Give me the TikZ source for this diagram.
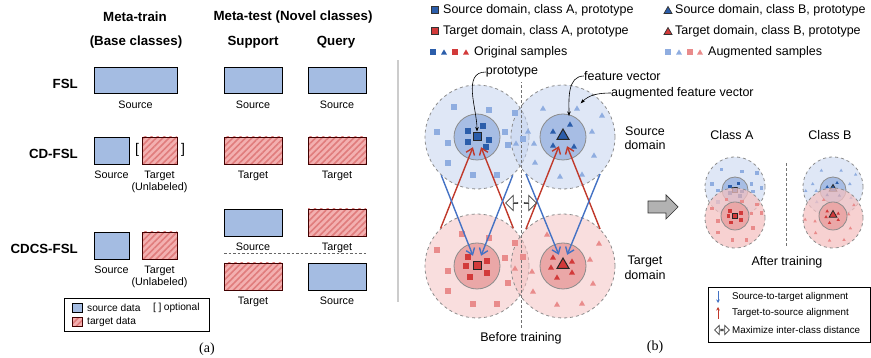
\documentclass[tikz,border=0pt]{standalone}
\usepackage{fontspec}
\setmainfont{Liberation Sans}
\newfontfamily\capfont{Liberation Serif}
\usetikzlibrary{positioning,arrows.meta,patterns.meta,shapes.geometric,shapes.arrows}

\definecolor{boxblue}{HTML}{A4BCE2}
\definecolor{hatchbase}{HTML}{F3B0B0}
\definecolor{hatchline}{HTML}{E07C7C}
\definecolor{origblue}{HTML}{2B5DAA}
\definecolor{augblue}{HTML}{8FADE0}
\definecolor{origred}{HTML}{D23A3A}
\definecolor{augred}{HTML}{E98B8B}
\definecolor{srcouter}{HTML}{C4D3EF}
\definecolor{srcinner}{HTML}{A7BDE4}
\definecolor{tgtouter}{HTML}{F4C2C2}
\definecolor{tgtinner}{HTML}{EAA7A7}
\definecolor{arrblue}{HTML}{4472C4}
\definecolor{arrred}{HTML}{C0392B}

\tikzset{
  srcbox/.style={draw=black, fill=boxblue, line width=0.8pt, inner sep=0pt, minimum height=26pt},
  tgtbox/.style={draw=black!75!red, line width=0.8pt, inner sep=0pt, minimum height=26pt,
    preaction={fill=hatchbase}, pattern={Lines[angle=45,distance=4.5pt,line width=1.6pt]}, pattern color=hatchline},
  head/.style={font=\fontsize{13.3}{15}\selectfont\bfseries, inner sep=0pt},
  lbl/.style={font=\fontsize{10.8}{12.5}\selectfont, align=center, inner sep=0pt},
  legtxt/.style={font=\fontsize{10.2}{12}\selectfont, inner sep=0pt, anchor=west},
  txt/.style={font=\fontsize{12.5}{14.5}\selectfont, align=center, inner sep=0pt},
  legb/.style={font=\fontsize{9.8}{11}\selectfont, inner sep=0pt, anchor=west},
  outerc/.style={circle, draw=black!45, dashed, line width=0.8pt, minimum size=104pt, inner sep=0pt, fill opacity=0.55},
  innerc/.style={circle, draw=black!45, line width=0.8pt, minimum size=46pt, inner sep=0pt},
  protosq/.style={rectangle, draw=black!85, line width=1pt, minimum size=8pt, inner sep=0pt},
  protri/.style={regular polygon, regular polygon sides=3, draw=black!85, line width=1pt, minimum size=14pt, inner sep=0pt},
  s2t/.style={arrblue, line width=1.4pt, -{Straight Barb[length=6pt,width=9pt]}, shorten >=11pt},
  t2s/.style={arrred, line width=1.4pt, -{Straight Barb[length=6pt,width=9pt]}, shorten >=11pt},
  note/.style={-{Stealth[length=4.5pt,width=3.5pt]}, line width=0.6pt, shorten >=1pt},
  hollow/.style={single arrow, draw=black!75, fill=white, line width=0.7pt, minimum height=12pt,
    minimum width=15pt, single arrow head extend=4pt, inner sep=0pt}
}

% sample offsets round each class centre
\def\augSA{-23/30,12/27,-40/5,-29/-6,28/5,31/-8,-29/-26,-4/-38,20/-38,46/-2,38/24}
\def\origSA{-9/6,6/11,12/-3,9/-10,-9/-5}
\def\augTA{-15/32,12/28,-40/16,-29/-5,28/8,38/23,31/-17,-29/-25,-4/-38,20/-38,46/9}
\def\origTA{-9/9,10/5,-11/0,10/-7,-7/-11}
\def\augSB{-20/29,14/29,39/22,29/6,-35/6,-29/-6,-47/-6,31/-18,-28/-25,-3/-39,19/-37}
\def\origSB{-10/6,7/13,-10/-8,11/-9}
\def\augTB{-16/32,36/23,27/7,-31/-5,-48/-2,30/-17,-30/-25,-6/-38,19/-37}
\def\origTB{-10/9,9/5,-12/-1,9/-6,-6/-11}

\newcommand{\sqcloud}[2]{\foreach \dx/\dy in #2 {\fill[#1] (\dx-3,\dy-3) rectangle ++(6,6);}}
\newcommand{\tricloud}[2]{\foreach \dx/\dy in #2 {\fill[#1] (\dx-3,\dy-2.6) -- ++(6,0) -- ++(-3,5.2) -- cycle;}}

\begin{document}
\begin{tikzpicture}[x=1pt,y=1pt]
\useasboundingbox (0,0) rectangle (871,358);

% (a) settings
\node[head] (mtrain) at (135,341) {Meta-train};
\node[head] (base) at (136,316) {(Base classes)};
\node[head] (mtest) at (293,341) {Meta-test (Novel classes)};
\node[head] (supp) at (253,316) {Support};
\node[head] (query) at (336,316) {Query};

\node[head, anchor=east] (fsl) at (78,274) {FSL};
\node[srcbox, minimum width=83pt] (fslTr) at (135.5,278) {};
\node[srcbox, minimum width=58pt] (fslSu) at (253,278) {};
\node[srcbox, minimum width=58pt] (fslQu) at (337,278) {};
\node[lbl, below=7pt of fslTr] (fslTrL) {Source};
\node[lbl, below=7pt of fslSu] (fslSuL) {Source};
\node[lbl, below=7pt of fslQu] (fslQuL) {Source};

\node[head, anchor=east] (cdfsl) at (78,204) {CD-FSL};
\node[srcbox, minimum width=35pt, minimum height=27pt] (cdTrS) at (111.5,207.5) {};
\node[tgtbox, minimum width=35pt, minimum height=27pt] (cdTrT) at (159.5,207.5) {};
\node[font=\fontsize{14}{14}\selectfont, inner sep=0pt] (brL) at (137,208) {[};
\node[font=\fontsize{14}{14}\selectfont, inner sep=0pt] (brR) at (183,208) {]};
\node[tgtbox, minimum width=58pt, minimum height=27pt] (cdSu) at (253,207.5) {};
\node[tgtbox, minimum width=58pt, minimum height=27pt] (cdQu) at (337,207.5) {};
\node[lbl, below=6pt of cdTrS] (cdTrSL) {Source};
\node[lbl, below=6pt of cdTrT] (cdTrTL) {Target\\(Unlabeled)};
\node[lbl, below=6pt of cdSu] (cdSuL) {Target};
\node[lbl, below=6pt of cdQu] (cdQuL) {Target};

\node[head, anchor=east] (cdcs) at (78,109) {CDCS-FSL};
\node[srcbox, minimum width=35pt, minimum height=27pt] (csTrS) at (111.5,112.5) {};
\node[tgtbox, minimum width=35pt, minimum height=27pt] (csTrT) at (159.5,112.5) {};
\node[lbl, below=6pt of csTrS] (csTrSL) {Source};
\node[lbl, below=6pt of csTrT] (csTrTL) {Target\\(Unlabeled)};
\node[srcbox, minimum width=58pt, minimum height=27pt] (csSu1) at (253,135.5) {};
\node[tgtbox, minimum width=58pt, minimum height=27pt] (csQu1) at (337,135.5) {};
\node[lbl, below=6pt of csSu1] (csSu1L) {Source};
\node[lbl, below=6pt of csQu1] (csQu1L) {Target};
\draw[black!60, dash pattern=on 2.5pt off 2pt, line width=0.7pt] (224,105) -- (366,105);
\node[tgtbox, minimum width=58pt, minimum height=27pt] (csSu2) at (253,81.5) {};
\node[srcbox, minimum width=58pt, minimum height=27pt] (csQu2) at (337,81.5) {};
\node[lbl, below=6pt of csSu2] (csSu2L) {Target};
\node[lbl, below=6pt of csQu2] (csQu2L) {Source};

% legend (a)
\node[draw, line width=0.8pt, minimum width=145pt, minimum height=33pt, inner sep=0pt] (legA) at (136.5,43.5) {};
\node[srcbox, minimum width=10pt, minimum height=9pt] (legS) at (77,50.5) {};
\node[tgtbox, minimum width=10pt, minimum height=9pt] (legT) at (77,36) {};
\node[legtxt] (legSL) at (87,50.5) {source data};
\node[legtxt] (legTL) at (87,36) {target data};
\node[legtxt] (legOpt) at (153,50.5) {[\hspace{2.5pt}]\hspace{2.5pt}optional};
\node[font=\capfont\fontsize{14}{14}\selectfont, inner sep=0pt] (capA) at (207,9) {(a)};

\draw[line width=1.5pt, black!20] (398,56) -- (398,298);

% (b) legend
\filldraw[fill=origblue, draw=black!80, line width=0.7pt] (431.5,344.5) rectangle ++(7,7);
\node[txt, anchor=west] (lg1) at (443,348) {Source domain, class A, prototype};
\filldraw[fill=origred, draw=black!80, line width=0.7pt] (431.5,323.5) rectangle ++(7,7);
\node[txt, anchor=west] (lg2) at (443,327) {Target domain, class A, prototype};
\filldraw[fill=origblue, draw=black!80, line width=0.7pt] (664,344.5) -- ++(8,0) -- ++(-4,7) -- cycle;
\node[txt, anchor=west] (lg3) at (675,348) {Source domain, class B, prototype};
\filldraw[fill=origred, draw=black!80, line width=0.7pt] (664,323.5) -- ++(8,0) -- ++(-4,7) -- cycle;
\node[txt, anchor=west] (lg4) at (675,327) {Target domain, class B, prototype};
\begin{scope}[shift={(0,306)}]
  \fill[origblue] (430,-3) rectangle ++(6,6);
  \fill[origblue] (441,-2.6) -- ++(6,0) -- ++(-3,5.2) -- cycle;
  \fill[origred] (452,-3) rectangle ++(6,6);
  \fill[origred] (463,-2.6) -- ++(6,0) -- ++(-3,5.2) -- cycle;
  \fill[augblue] (665,-3) rectangle ++(6,6);
  \fill[augblue] (676,-2.6) -- ++(6,0) -- ++(-3,5.2) -- cycle;
  \fill[augred] (687,-3) rectangle ++(6,6);
  \fill[augred] (697,-2.6) -- ++(6,0) -- ++(-3,5.2) -- cycle;
\end{scope}
\node[txt, anchor=west] (lg5) at (474,306) {Original samples};
\node[txt, anchor=west] (lg6) at (708,306) {Augmented samples};

% before training
\node[outerc, fill=srcouter] (srcA) at (477,221) {};
\node[outerc, fill=srcouter] (srcB) at (563,221) {};
\node[outerc, fill=tgtouter] (tgtA) at (477,92) {};
\node[outerc, fill=tgtouter] (tgtB) at (563,92) {};
\draw[black!55, dash pattern=on 3pt off 2pt, line width=0.7pt] (521,30) -- (521,276);
\begin{scope}[shift={(477,221)}] \sqcloud{augblue}{\augSA} \end{scope}
\begin{scope}[shift={(477,92)}] \sqcloud{augred}{\augTA} \end{scope}
\begin{scope}[shift={(563,221)}] \tricloud{augblue}{\augSB} \end{scope}
\begin{scope}[shift={(563,92)}] \tricloud{augred}{\augTB} \end{scope}
\node[innerc, fill=srcinner] (srcAin) at (477,221) {};
\node[innerc, fill=srcinner] (srcBin) at (563,221) {};
\node[innerc, fill=tgtinner] (tgtAin) at (477,92) {};
\node[innerc, fill=tgtinner] (tgtBin) at (563,92) {};
\begin{scope}[shift={(477,221)}] \sqcloud{origblue}{\origSA} \end{scope}
\begin{scope}[shift={(477,92)}] \sqcloud{origred}{\origTA} \end{scope}
\begin{scope}[shift={(563,221)}] \tricloud{origblue}{\origSB} \end{scope}
\begin{scope}[shift={(563,92)}] \tricloud{origred}{\origTB} \end{scope}
\node[protosq, fill=origblue] (protSA) at (477,221) {};
\node[protosq, fill=origred] (protTA) at (477,92) {};
\node[protri, fill=origblue] (protSB) at (563,222) {};
\node[protri, fill=origred] (protTB) at (563,93) {};

\draw[t2s] (tgtA.134) -- (protSA.center);
\draw[t2s] (tgtA.46) -- (protSA.center);
\draw[t2s] (tgtB.135) -- (protSB.center);
\draw[t2s] (tgtB.45) -- (protSB.center);
\draw[s2t] (srcA.227) -- (protTA.center);
\draw[s2t] (srcA.-47) -- (protTA.center);
\draw[s2t] (srcB.225) -- (protTB.center);
\draw[s2t] (srcB.-45) -- (protTB.center);

\node[hollow, shape border rotate=180] (pushL) at (512,155) {};
\node[hollow] (pushR) at (530,155) {};

\node[txt] (protoLbl) at (512,286) {prototype};
\draw[note] (protoLbl.west) to[out=180, in=90] (protSA.north);
\coordinate (fvPt) at (569,241);
\coordinate (afvPt) at (580,254);
\node[txt, anchor=west] (fvLbl) at (584,282) {feature vector};
\node[txt, anchor=west] (afvLbl) at (611,265) {augmented feature vector};
\draw[note] (fvLbl.west) to[out=180, in=90] (fvPt);
\draw[note] (afvLbl.west) to[out=180, in=45] (afvPt);

\node[txt] (srcDom) at (645,220) {Source\\domain};
\node[txt] (tgtDom) at (645,90) {Target\\domain};
\node[txt] (before) at (521,20) {Before training};
\node[font=\capfont\fontsize{14}{14}\selectfont, inner sep=0pt] (capB) at (655,11) {(b)};

% block arrow to the right
\filldraw[fill=black!30, draw=black!80, line width=0.7pt]
  (648,145) -- (666,145) -- (666,139) -- (678,151) -- (666,163) -- (666,157) -- (648,157) -- cycle;

% after training
\node[txt] (clsA) at (732,223) {Class A};
\node[txt] (clsB) at (830,223) {Class B};
\draw[black!55, dash pattern=on 3pt off 2pt, line width=0.7pt] (786,112) -- (786,196);

\node[outerc, fill=srcouter, minimum size=60pt] (aSA) at (735,171) {};
\node[outerc, fill=srcouter, minimum size=60pt] (aSB) at (833,171) {};
\begin{scope}[shift={(735,171)}, scale=0.58] \sqcloud{augblue}{\augSA} \end{scope}
\begin{scope}[shift={(833,171)}, scale=0.58] \tricloud{augblue}{\augSB} \end{scope}
\node[innerc, fill=srcinner, minimum size=26pt] (aSAin) at (735,168) {};
\node[innerc, fill=srcinner, minimum size=26pt] (aSBin) at (833,168) {};
\begin{scope}[shift={(735,168)}, scale=0.58] \sqcloud{origblue}{\origSA} \end{scope}
\begin{scope}[shift={(833,168)}, scale=0.58] \tricloud{origblue}{\origSB} \end{scope}
\node[protosq, fill=origblue, minimum size=5.5pt, line width=0.8pt] (aprotSA) at (735,168) {};
\node[protri, fill=origblue, minimum size=9pt, line width=0.8pt] (aprotSB) at (833,169) {};

\node[outerc, fill=tgtouter, minimum size=60pt, fill opacity=0.75] (aTA) at (735,140) {};
\node[outerc, fill=tgtouter, minimum size=60pt, fill opacity=0.75] (aTB) at (833,140) {};
\begin{scope}[shift={(735,140)}, scale=0.58] \sqcloud{augred}{\augTA} \end{scope}
\begin{scope}[shift={(833,140)}, scale=0.58] \tricloud{augred}{\augTB} \end{scope}
\node[innerc, fill=tgtinner, minimum size=28pt] (aTAin) at (735,142) {};
\node[innerc, fill=tgtinner, minimum size=28pt] (aTBin) at (833,142) {};
\begin{scope}[shift={(735,142)}, scale=0.58] \sqcloud{origred}{\origTA} \end{scope}
\begin{scope}[shift={(833,142)}, scale=0.58] \tricloud{origred}{\origTB} \end{scope}
\node[protosq, fill=origred, minimum size=5.5pt, line width=0.8pt] (aprotTA) at (735,142) {};
\node[protri, fill=origred, minimum size=9pt, line width=0.8pt] (aprotTB) at (833,143) {};
\node[txt] (after) at (787,96) {After training};

% legend (b)
\node[draw, line width=0.8pt, minimum width=162pt, minimum height=55pt, inner sep=0pt] (legB) at (789,43.5) {};
\draw[arrblue, line width=0.8pt, -{Stealth[length=3.5pt,width=3.5pt]}] (718,67) -- (718,55);
\draw[arrred, line width=0.8pt, -{Stealth[length=3.5pt,width=3.5pt]}] (718,39) -- (718,51);
\node[hollow, shape border rotate=180, minimum height=7pt, minimum width=9pt, single arrow head extend=2pt] (legHL) at (718.5,28) {};
\node[hollow, minimum height=7pt, minimum width=9pt, single arrow head extend=2pt] (legHR) at (725.5,28) {};
\node[legb] (lb1) at (732,61) {Source-to-target alignment};
\node[legb] (lb2) at (732,45) {Target-to-source alignment};
\node[legb] (lb3) at (732,28) {Maximize inter-class distance};
\end{tikzpicture}
\end{document}
